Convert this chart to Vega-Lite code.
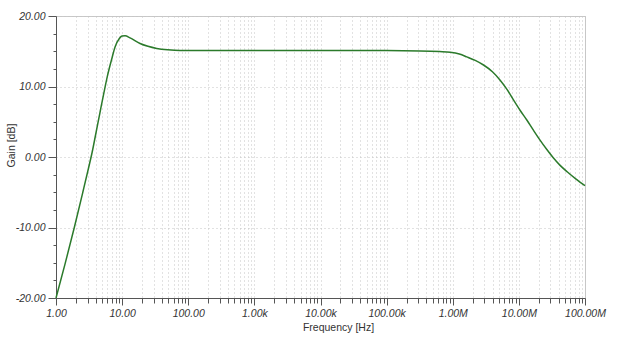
{
  "$schema": "https://vega.github.io/schema/vega-lite/v6.json",
  "autosize": "none",
  "width": 529,
  "height": 282,
  "padding": {"left": 56, "top": 16, "right": 35, "bottom": 46},
  "background": "white",
  "config": {
    "view": {"stroke": "#c8c8c8", "strokeWidth": 1},
    "font": "Liberation Sans"
  },
  "data": {
    "values": [
      {"f": 1, "gain": -20},
      {"f": 1.368, "gain": -15.2},
      {"f": 1.892, "gain": -10},
      {"f": 2.559, "gain": -4.9},
      {"f": 3.1, "gain": -1.6},
      {"f": 3.508, "gain": 0.6},
      {"f": 4.0, "gain": 3.3},
      {"f": 4.6, "gain": 6.2},
      {"f": 5.3, "gain": 9.1},
      {"f": 6.0, "gain": 11.5},
      {"f": 6.966, "gain": 13.9},
      {"f": 7.816, "gain": 15.6},
      {"f": 9.078, "gain": 16.8},
      {"f": 9.954, "gain": 17.15},
      {"f": 11.07, "gain": 17.2},
      {"f": 13.18, "gain": 16.9},
      {"f": 18.66, "gain": 16.1},
      {"f": 24.55, "gain": 15.7},
      {"f": 33.34, "gain": 15.4},
      {"f": 48.98, "gain": 15.2},
      {"f": 75.16, "gain": 15.1},
      {"f": 316.2, "gain": 15.1},
      {"f": 1000, "gain": 15.1},
      {"f": 10000, "gain": 15.1},
      {"f": 100000, "gain": 15.1},
      {"f": 316228, "gain": 15.05},
      {"f": 630957, "gain": 14.95},
      {"f": 912011, "gain": 14.85},
      {"f": 1258925, "gain": 14.6},
      {"f": 1633050, "gain": 14.2},
      {"f": 2187762, "gain": 13.7},
      {"f": 2917427, "gain": 13.05},
      {"f": 3981072, "gain": 12.1},
      {"f": 5211947, "gain": 10.9},
      {"f": 6606934, "gain": 9.6},
      {"f": 8279422, "gain": 8.1},
      {"f": 10471285, "gain": 6.6},
      {"f": 13182567, "gain": 5.25},
      {"f": 16595869, "gain": 3.8},
      {"f": 20892961, "gain": 2.4},
      {"f": 26302680, "gain": 1.1},
      {"f": 33113112, "gain": -0.1},
      {"f": 41686938, "gain": -1.15},
      {"f": 53703180, "gain": -2.1},
      {"f": 72443596, "gain": -3.1},
      {"f": 100000000, "gain": -4.07}
    ]
  },
  "mark": {"type": "line", "color": "#2b7a2b", "strokeWidth": 1.5, "interpolate": "monotone"},
  "encoding": {
    "x": {
      "field": "f",
      "type": "quantitative",
      "scale": {"type": "log", "domain": [1, 100000000], "nice": false},
      "axis": {
        "title": "Frequency [Hz]",
        "titleFont": "Liberation Sans",
        "titleFontSize": 10.5,
        "titleFontWeight": "normal",
        "titleColor": "#333",
        "titleX": 282,
        "titlePadding": 4,
        "values": [1,2,3,4,5,6,7,8,9,10,20,30,40,50,60,70,80,90,100,200,300,400,500,600,700,800,900,1000,2000,3000,4000,5000,6000,7000,8000,9000,10000,20000,30000,40000,50000,60000,70000,80000,90000,100000,200000,300000,400000,500000,600000,700000,800000,900000,1000000,2000000,3000000,4000000,5000000,6000000,7000000,8000000,9000000,10000000,20000000,30000000,40000000,50000000,60000000,70000000,80000000,90000000,100000000],
        "labelExpr": "abs(log(datum.value)/LN10 - round(log(datum.value)/LN10)) < 0.000001 ? (datum.value >= 1000000 ? format(datum.value/1000000, '.2f') + 'M' : datum.value >= 1000 ? format(datum.value/1000, '.2f') + 'k' : format(datum.value, '.2f')) : ''",
        "labelFont": "Liberation Sans",
        "labelFontStyle": "italic",
        "labelFontSize": 10.5,
        "labelColor": "#333",
        "labelDx": 6,
        "labelPadding": 3,
        "labelOverlap": false,
        "labelFlush": false,
        "tickSize": {"condition": {"test": "abs(log(datum.value)/LN10 - round(log(datum.value)/LN10)) < 0.000001", "value": 7}, "value": 5},
        "tickColor": "#555",
        "domainColor": "#555",
        "grid": true,
        "gridColor": "#c4c4c4",
        "gridDash": [1, 3],
        "gridWidth": 1
      }
    },
    "y": {
      "field": "gain",
      "type": "quantitative",
      "scale": {"domain": [-20, 20], "nice": false},
      "axis": {
        "title": "Gain [dB]",
        "titleFont": "Liberation Sans",
        "titleFontSize": 10.5,
        "titleFontWeight": "normal",
        "titleColor": "#333",
        "titleX": -45,
        "titleY": 129,
        "titleAlign": "center",
        "titleBaseline": "middle",
        "titleAngle": -90,
        "values": [-20, -17.5, -15, -12.5, -10, -7.5, -5, -2.5, 0, 2.5, 5, 7.5, 10, 12.5, 15, 17.5, 20],
        "labelExpr": "datum.value % 10 === 0 ? (datum.value < 0 ? '-' : '') + format(abs(datum.value), '.2f') : ''",
        "labelFont": "Liberation Sans",
        "labelFontStyle": "italic",
        "labelFontSize": 10.5,
        "labelColor": "#333",
        "labelPadding": 3,
        "labelOverlap": false,
        "labelFlush": false,
        "tickSize": {"condition": {"test": "datum.value % 10 === 0", "value": 8}, "value": 3},
        "tickColor": "#555",
        "domainColor": "#555",
        "grid": true,
        "gridColor": "#c4c4c4",
        "gridDash": [1, 3],
        "gridOpacity": {"condition": {"test": "datum.value % 10 === 0", "value": 1}, "value": 0}
      }
    }
  }
}
